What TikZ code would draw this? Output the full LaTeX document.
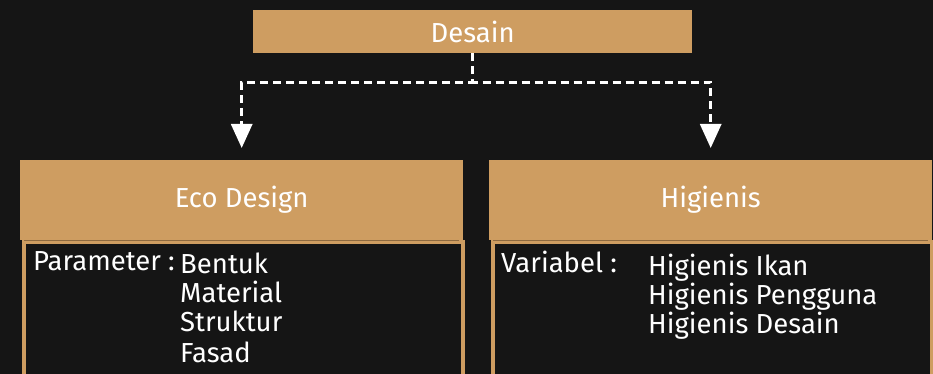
\documentclass[tikz,border=0pt]{standalone}
\usepackage{fontspec}
\setmainfont{Fira Sans}
\usetikzlibrary{arrows.meta}
\definecolor{bg}{HTML}{151515}
\definecolor{tan}{HTML}{CE9D61}
\definecolor{tanline}{HTML}{8E6A40}
\tikzset{
  hdr/.style={fill=tan, text=white, inner sep=0pt, anchor=north west, font=\fontsize{27.5}{31}\selectfont},
  bodybox/.style={draw=tan, line width=4pt, fill=bg, inner sep=0pt, anchor=north west},
  txt/.style={text=white, inner sep=0pt, anchor=base west, font=\fontsize{27.5}{31}\selectfont},
  conn/.style={draw=white, line width=3pt, dash pattern=on 8pt off 5pt, -{Triangle[width=21pt,length=24pt]}, shorten >=12pt}
}
\begin{document}
\begin{tikzpicture}[x=1pt,y=-1pt]
\fill[bg] (0,0) rectangle (933,374);
\useasboundingbox (0,0) rectangle (933,374);
% top
\node[hdr, minimum width=439pt, minimum height=43pt] (desain) at (253,10) {Desain};
% left column
\node[hdr, minimum width=443pt, minimum height=80pt] (eco) at (20,160) {Eco Design};
\node[bodybox, minimum width=439pt, minimum height=150pt] (ecobody) at (22,240) {};
\draw[tanline, line width=1pt] (24,240.5) -- (459,240.5);
\node[txt] (par) at (33,270) {Parameter :};
\node[txt] (b1) at (180,273) {Bentuk};
\node[txt] (b2) at (180,302) {Material};
\node[txt] (b3) at (180,331) {Struktur};
\node[txt] (b4) at (180,362) {Fasad};
% right column
\node[hdr, minimum width=443pt, minimum height=80pt] (hig) at (489,160) {Higienis};
\node[bodybox, minimum width=439pt, minimum height=150pt] (higbody) at (491,240) {};
\draw[tanline, line width=1pt] (493,240.5) -- (928,240.5);
\node[txt] (var) at (501,272) {Variabel :};
\node[txt] (h1) at (648,275) {Higienis Ikan};
\node[txt] (h2) at (648,304) {Higienis Pengguna};
\node[txt] (h3) at (648,333) {Higienis Desain};
% connectors
\draw[conn] (desain.south) -- ++(0,29) -| (eco.north);
\draw[conn] (desain.south) -- ++(0,29) -| (hig.north);
\end{tikzpicture}
\end{document}
